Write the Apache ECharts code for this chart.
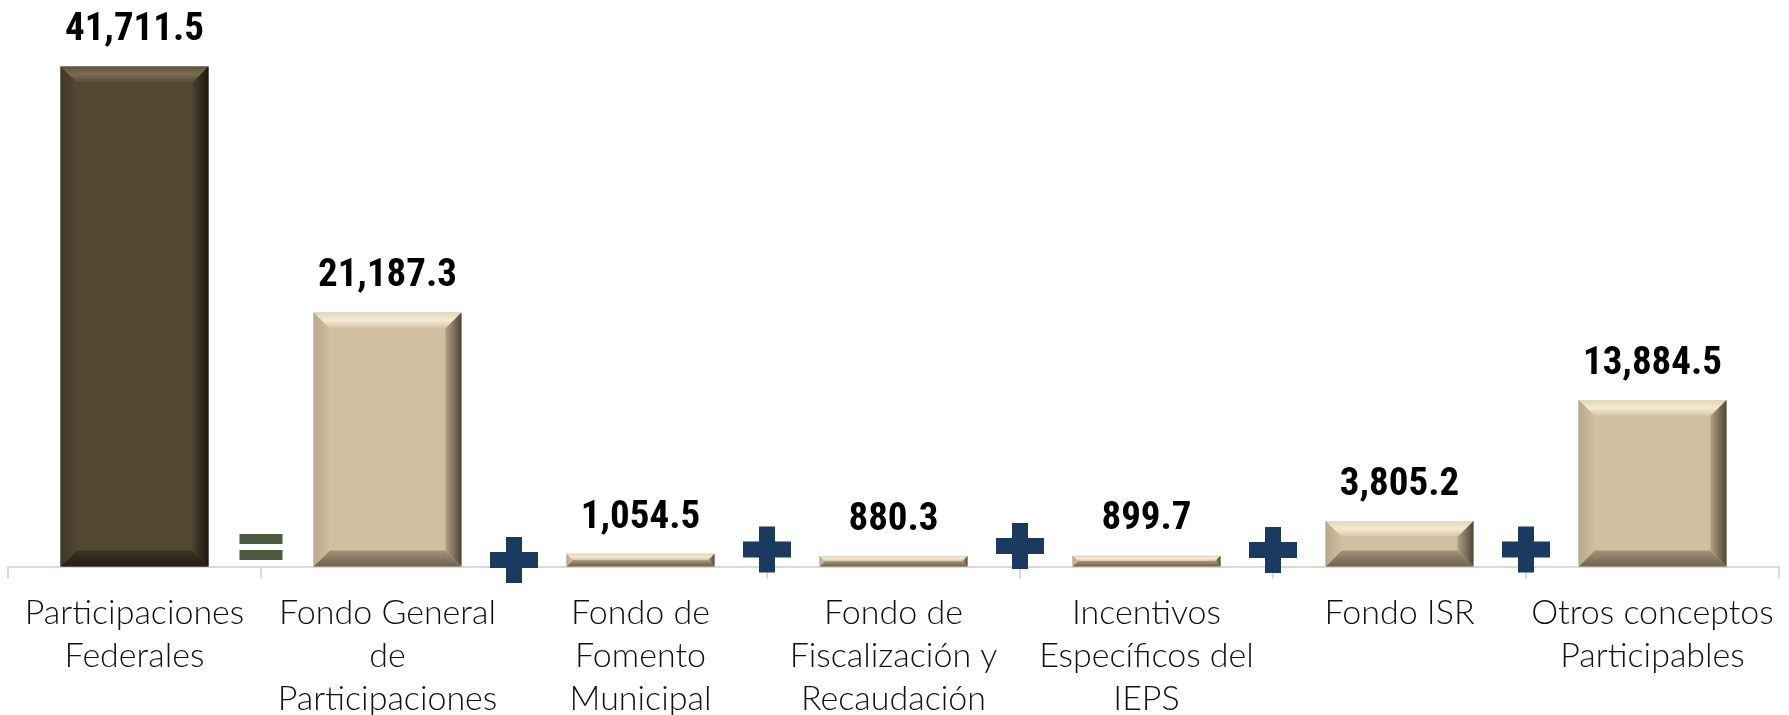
<!DOCTYPE html>
<html>
<head>
<meta charset="utf-8">
<script src="https://cdn.jsdelivr.net/npm/echarts@6/dist/echarts.min.js"></script>
<style>
html,body{margin:0;padding:0;background:#fff;}
#chart{width:1789px;height:715px;}
</style>
</head>
<body>
<div id="chart"></div>
<script>
// ---- data ----
const categories = [
  'Participaciones\nFederales',
  'Fondo General\nde\nParticipaciones',
  'Fondo de\nFomento\nMunicipal',
  'Fondo de\nFiscalización y\nRecaudación',
  'Incentivos\nEspecíficos del\nIEPS',
  'Fondo ISR',
  'Otros conceptos\nParticipables'
];
const values = [41711.5, 21187.3, 1054.5, 880.3, 899.7, 3805.2, 13884.5];
// operators drawn between the categories
const operatorSymbols = ['=', '+', '+', '+', '+', '+'];
const operatorPositions = [1, 2, 3, 4, 5, 6];
const operatorLevels = [1625, 540, 1420, 1710, 1375, 1420];

// ---- styles ----
const palettes = {
  dark: {
    face: '#524731',
    top: ['#5e533c', '#7a6d55', '#564b35'],
    left: ['#40372a', '#524731'],
    right: ['#4a402d', '#1c170e'],
    bottom: ['#3c3324', '#241e13']
  },
  light: {
    face: '#d0c0a1',
    top: ['#e2d6bb', '#f4ead2', '#d3c3a4'],
    left: ['#b8a98a', '#cebfa0'],
    right: ['#b0a185', '#4e4534'],
    bottom: ['#a39478', '#6d624f']
  }
};
const PLUS = 'path://M16,0H32V15H48V31H32V46H16V31H0V15H16Z';
const EQUALS = 'path://M0,0H43V10H0Z M0,16H43V26H0Z';

function fmt(v) {
  return v.toLocaleString('en-US', {minimumFractionDigits: 1, maximumFractionDigits: 1});
}
function lg(x0, y0, x1, y1, cols) {
  const stops = cols.map((c, i) => ({offset: cols.length === 1 ? 0 : i / (cols.length - 1), color: c}));
  return new echarts.graphic.LinearGradient(x0, y0, x1, y1, stops);
}

const chart = echarts.init(document.getElementById('chart'));

const operatorData = operatorSymbols.map((s, i) => ({
  value: [operatorPositions[i], operatorLevels[i]],
  symbol: s === '=' ? EQUALS : PLUS,
  symbolSize: s === '=' ? [43, 26] : [48, 46],
  itemStyle: {color: s === '=' ? '#4d5a3f' : '#1b3a60', opacity: 1}
}));

chart.setOption({
  animation: false,
  grid: {left: 8, right: 10, top: 27, bottom: 148.5, containLabel: false, outerBoundsMode: 'none'},
  xAxis: [
    {
      type: 'category',
      data: categories,
      boundaryGap: true,
      axisLine: {show: true, lineStyle: {color: '#d9d9d9', width: 2}},
      axisTick: {show: true, length: 12, lineStyle: {color: '#d9d9d9', width: 2}},
      axisLabel: {
        interval: 0,
        margin: 25,
        color: '#111',
        fontFamily: 'Lato, "Open Sans", sans-serif',
        fontWeight: 300,
        fontSize: 34,
        lineHeight: 43
      },
      splitLine: {show: false}
    },
    {type: 'value', min: 0, max: 7, show: false}
  ],
  yAxis: {type: 'value', min: 0, max: 45000, show: false, splitLine: {show: false}},
  series: [
    {
      type: 'custom',
      xAxisIndex: 0,
      data: values.map((v, i) => [i, v]),
      renderItem(params, api) {
        const idx = api.value(0), v = api.value(1);
        const base = api.coord([idx, 0]);
        const top = api.coord([idx, v]);
        const w = api.size([1, 0])[0] * 0.585;
        const x0 = base[0] - w / 2, x1 = base[0] + w / 2;
        const y0 = top[1], y1 = base[1];
        const h = y1 - y0;
        const b = Math.min(16, h / 2, w / 2);
        const p = idx === 0 ? palettes.dark : palettes.light;
        return {
          type: 'group',
          children: [
            {type: 'rect', shape: {x: x0, y: y0, width: w, height: h}, style: {fill: p.face}},
            {type: 'polygon', shape: {points: [[x0, y0], [x1, y0], [x1 - b, y0 + b], [x0 + b, y0 + b]]},
              style: {fill: lg(0, 0, 0, 1, p.top)}},
            {type: 'polygon', shape: {points: [[x0, y1], [x1, y1], [x1 - b, y1 - b], [x0 + b, y1 - b]]},
              style: {fill: lg(0, 0, 0, 1, p.bottom)}},
            {type: 'polygon', shape: {points: [[x0, y0], [x0 + b, y0 + b], [x0 + b, y1 - b], [x0, y1]]},
              style: {fill: lg(0, 0, 1, 0, p.left)}},
            {type: 'polygon', shape: {points: [[x1, y0], [x1 - b, y0 + b], [x1 - b, y1 - b], [x1, y1]]},
              style: {fill: lg(0, 0, 1, 0, p.right)}},
            {type: 'text', x: base[0], y: y0 - 36,
              style: {
                text: fmt(v),
                align: 'center',
                verticalAlign: 'middle',
                fill: '#000',
                fontFamily: '"Liberation Sans Narrow", "Arial Narrow", "Roboto Condensed", sans-serif',
                fontWeight: 'bold',
                fontSize: 39
              }}
          ]
        };
      },
      z: 2
    },
    {
      type: 'scatter',
      xAxisIndex: 1,
      data: operatorData,
      z: 3
    }
  ]
});
</script>
</body>
</html>
